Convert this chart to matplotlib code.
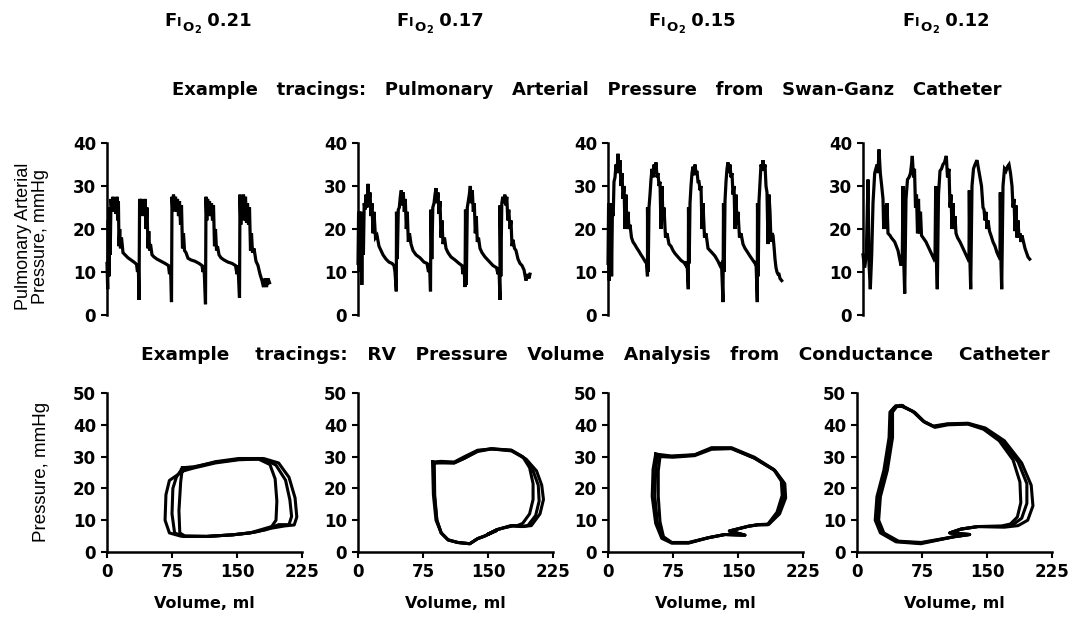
import matplotlib
matplotlib.use("Agg")
import matplotlib.pyplot as plt

plt.rcParams["font.family"] = ["DejaVu Sans"]

FIO2 = ["0.21", "0.17", "0.15", "0.12"]

# --- Pulmonary arterial pressure tracings (time in arbitrary units, mmHg) ---
pap_t_021 = [0, 0.7, 1.3, 2, 2.6, 3.2, 4, 5, 6, 7, 8, 9, 10, 10.7, 11.4, 12, 12.7, 13.5, 14.5, 16, 18, 21, 24, 27, 29.5, 30.5, 31.3, 32,
             32.6, 33.3, 34, 35, 36, 37, 38, 39, 40, 41, 41.8, 42.6, 43.5, 45, 47, 50, 54, 58, 61.5, 62.5, 63.5, 64.5,
             65, 65.8, 66.5, 67.5, 68.5, 69.5, 70.5, 71.5, 72.5, 73.5, 74.5, 75.5, 76.5, 77.5, 79, 81, 84, 88, 92, 95, 96, 97, 98.5,
             99, 99.8, 100.6, 101.5, 102.5, 103.5, 104.5, 105.5, 106.5, 107.5, 108.5, 109.5, 110.5, 112, 114, 117, 121, 125, 128.5, 130, 131, 132.5,
             133, 133.8, 134.6, 135.5, 136.5, 137.5, 138.5, 139.5, 140.5, 141.5, 142.5, 143.5, 144.5, 145.5, 147, 149, 151, 153, 155, 156.5, 158, 159.5, 161, 162.5]
pap_p_021 = [12, 6, 22, 9, 25, 14, 27, 24, 27.5, 24.5, 27, 23.5, 27.5, 22, 26.5, 16, 20, 15.5, 18, 14.5, 14, 13.3, 12.8, 12.3, 11.8, 10, 12, 3.5,
             27, 23, 27, 24.5, 26.5, 23, 27, 20, 25, 15.5, 19.5, 15, 16.5, 14, 13.5, 13, 12.5, 12, 11.5, 9.5, 11.5, 3,
             27.5, 24, 28, 25, 27.5, 24, 27, 23, 26.5, 21, 25.5, 15.5, 19, 15, 14.5, 13.2, 12.8, 12.5, 12, 11.5, 10, 11.5, 2.5,
             27.5, 22, 27, 24, 26.5, 23, 26, 22, 25.5, 16, 20, 15, 16, 14, 13.3, 12.8, 12.3, 12, 11.5, 9.5, 11.5, 4,
             28, 21, 27.5, 23, 28, 22, 27.5, 21.5, 26, 21, 25, 15, 19, 14.5, 15.5, 12.5, 11.5, 9.5, 8, 6.5, 8.5, 6.5, 8.5, 7.5]

pap_t_017 = [0, 0.6, 1.2, 1.8, 2.4, 3, 3.8, 4.6, 5.4, 6.2, 7, 8, 9, 10, 11, 12, 13, 14, 15, 16, 17.5, 19, 21, 23, 25, 28, 31, 34, 36, 37, 38.3,
             38.5, 39.3, 40.3, 41.3, 42.3, 43.3, 44.3, 45.3, 46.3, 47.3, 48.3, 49.3, 50.3, 51.5, 53, 55, 58, 62, 66, 69, 70.5, 71.5, 72.5,
             73, 73.8, 74.8, 76, 77, 78, 79, 80, 81, 82, 83, 84, 85, 86.5, 88, 90, 93, 97, 101, 104, 105, 106, 107,
             107.5, 108.3, 109.3, 110.3, 111.3, 112.3, 113.3, 114.3, 115.3, 116.3, 117.3, 118.3, 119.3, 120.5, 122, 124, 127, 131, 135, 138.5, 140, 141, 142,
             142, 142.8, 143.8, 144.8, 145.8, 146.8, 147.8, 148.8, 149.8, 150.8, 152, 153, 154, 155, 156.5, 158, 160, 162, 164, 166, 168, 169.5, 171, 172]
pap_p_017 = [12, 24, 10, 24, 13, 24, 7, 22, 14, 26, 24.5, 28, 25, 30.5, 26, 28.5, 23, 26, 19, 24, 18, 18.5, 16, 15, 14, 13, 12.3, 12, 11.5, 10, 5.5,
             24, 13, 24.5, 25, 27.5, 29, 25.5, 28.5, 24, 27, 20, 24, 17, 19, 16.5, 15, 14, 13.3, 12.3, 12, 10, 12, 5.5,
             24.5, 13, 25, 26, 28, 29.5, 26, 28.5, 23.5, 26.5, 18, 22, 16.5, 18, 15.5, 14.5, 13.5, 12.8, 12, 11.5, 9.5, 11.5, 6.5,
             24.5, 7, 25, 26.5, 28, 30, 26, 29, 24, 26, 19, 23, 17, 18, 15.5, 14.5, 13.5, 12.5, 11.5, 11, 9.5, 11, 3.5,
             25.5, 9, 26, 27.5, 26, 28, 25.5, 27.5, 22, 24.5, 20, 22, 16, 17.5, 15.5, 15, 13, 12, 11.5, 10.5, 8, 9.5, 8.5, 9.5]

pap_t_015 = [0, 0.6, 1.2, 1.8, 2.4, 3, 3.6, 4.4, 5.2, 6, 7, 8, 9, 10, 11, 12, 13, 14, 15, 16, 17, 18, 19, 20, 21, 22, 23.5, 25, 27, 29, 31, 33, 35, 37, 38.5, 39.5,
             39.5, 40.2, 41, 42, 43, 44, 45, 46, 47, 48, 49, 50, 51, 52, 53, 54, 55, 56, 57.5, 59, 61, 63, 65, 67, 70, 73, 76, 78, 79, 80.3,
             80.5, 81.2, 82, 83, 84, 85, 86, 87, 88, 89, 90, 91, 92, 93, 94, 95, 96.5, 98, 100, 102, 104, 107, 110, 112, 113.5, 115,
             115.5, 116.2, 117, 118, 119, 120, 121, 122, 123, 124, 125, 126, 127, 128, 129, 130, 131.5, 133, 135, 137, 139, 142, 145, 147, 148, 149.3,
             149.5, 150.2, 151, 152, 153, 154, 155, 156, 157, 158, 159, 160, 161, 162, 163, 164, 165, 166, 167, 168, 169, 170, 171, 172, 173.7]
pap_p_015 = [12, 26, 8, 26, 11, 26, 9, 24, 23, 31, 32, 35, 33, 37.5, 33, 36, 30, 33, 27, 30, 20, 28, 20, 24, 20, 21, 18, 17, 16.3, 15.5, 14.8, 14, 13.3, 12.5, 12, 9,
             25, 10, 25, 28, 31.5, 34, 32, 35, 33, 35.5, 32, 33, 30, 31, 20, 30, 22, 25, 18, 19, 16.5, 16, 15, 14.3, 13.5, 12.7, 12.2, 11.5, 12.5, 6,
             25, 12, 26, 30, 33, 34.5, 32.5, 35, 33, 33.5, 31, 31, 29, 30, 20, 26, 18, 19, 15.5, 15, 14.5, 13.7, 12.5, 11.5, 12, 3,
             26, 10, 26.5, 31, 34, 35.5, 33, 35, 32, 33, 28, 30, 20, 28, 21, 24, 18, 19, 16.5, 15.5, 14.8, 13.7, 12.7, 12, 12.5, 3,
             26, 9, 26.5, 31, 35, 34, 36, 33.5, 35, 30, 28.5, 16.5, 28, 24, 17, 19, 18.5, 16, 13, 11, 10, 9.5, 9.5, 8.5, 8]

pap_t_012 = [0, 1.7, 3.3, 5, 6, 7.3, 8.7, 10, 11.7, 14, 15, 16, 17.3, 18.7, 20, 20.7, 22, 23.3, 24, 25, 27, 28.3, 31.7, 35, 36.7, 38, 39.3,
             40, 40.8, 41.7, 43, 44.5, 46, 47.5, 48.5, 49.3, 50.5, 51.5, 52.5, 53.5, 54.5, 55.5, 56.5, 57.5, 58.5, 60, 63, 66, 69, 71, 72,
             72.7, 73.5, 74.3, 75.5, 77, 78.5, 80, 81.5, 83.3, 84.5, 86, 87, 88, 89, 90, 91, 92, 93, 94.5, 97, 100, 103, 105, 106,
             106.3, 107, 107.7, 109, 110.5, 112, 114, 115.5, 117, 118.5, 120, 121, 122, 123, 124, 125, 126.5, 128, 130, 132, 134, 136, 137,
             137.3, 138, 138.7, 140, 141.5, 143, 144.5, 146, 147.5, 149, 150, 151, 152, 153, 154, 155, 156, 157, 158, 159, 160.5, 162, 163.5, 165, 166.7]
pap_p_012 = [14, 11, 14, 31.5, 12, 6, 14, 26, 33, 35, 33, 38.5, 33, 30, 27, 20, 25.5, 20, 26, 19, 18.5, 18, 17, 15, 13, 11.5, 14,
             30, 12, 5, 27, 31.5, 32, 33, 35, 37, 32, 34, 25, 28, 19, 27, 19, 24, 18.5, 18, 17, 15.5, 14, 13, 13.5,
             30, 12, 6, 28, 33.5, 34, 35, 35.5, 37, 32, 34, 25, 28, 20, 26, 20, 23, 19, 18, 17, 15.5, 14, 13, 13.5,
             29, 12, 6, 30, 34, 35, 36, 34, 32, 30, 25, 24.5, 22, 24, 20, 22, 19.5, 18.5, 17, 16, 14.5, 13.5, 14,
             28.5, 12, 6, 30, 34, 33.5, 34.5, 35, 33, 30, 25, 27, 19.5, 25.5, 18, 22, 18, 19, 17, 18.5, 17, 15.5, 14.5, 13.5, 13]

# --- RV pressure-volume loops (volume ml, pressure mmHg), several beats per condition ---
pv_v_021 = [
    [87, 100, 125, 152, 175, 188, 194, 196, 195, 190, 180, 165, 145, 115, 90, 84, 83, 85, 87],
    [86, 100, 125, 152, 180, 195, 206, 211, 213, 210, 198, 183, 165, 145, 115, 88, 78, 75, 76, 80, 86],
    [88, 100, 125, 152, 182, 198, 210, 217, 219, 216, 205, 190, 170, 145, 115, 85, 72, 67, 68, 72, 80, 88],
]
pv_p_021 = [
    [26.5, 26.8, 28.2, 29.2, 29.2, 27.5, 23, 16, 10, 8, 7.2, 6, 5.4, 4.9, 5, 6, 13, 22, 26.5],
    [26.0, 26.6, 28.4, 29.4, 29.4, 27.3, 22.6, 16.4, 11.2, 8.6, 8.6, 7.0, 6.0, 5.4, 4.9, 4.9, 6, 12, 20, 23.5, 26],
    [25.5, 26.4, 28, 29, 29.3, 28, 23.5, 17, 11, 8.5, 8.2, 7.5, 6.2, 5.4, 4.9, 5, 6, 10, 18, 22.5, 24, 25.5],
]
pv_v_017 = [
    [87, 96, 111, 123, 138, 154, 177, 190, 198, 202, 202, 198, 190, 183, 176, 168, 160, 150, 160, 146, 138, 129, 115, 104, 96, 91, 88, 87],
    [88, 97, 111, 123, 138, 154, 177, 192, 202, 208, 209, 205, 196, 188, 178, 168, 160, 150, 160, 146, 138, 129, 115, 104, 96, 91, 88.5, 88],
    [86, 96, 111, 123, 138, 154, 177, 194, 206, 212, 214, 210, 200, 190, 180, 168, 160, 150, 160, 146, 138, 129, 115, 104, 96, 90, 87, 86],
]
pv_p_017 = [
    [28, 28.2, 28, 29.5, 31.6, 32.4, 32, 30, 26.5, 21.5, 16.5, 12, 9, 8.2, 8.3, 7.6, 7, 5.6, 6.8, 5, 4.2, 2.6, 3, 3.8, 6, 10, 18, 28],
    [28, 28, 28, 29.5, 31.8, 32.5, 32, 29.5, 25.5, 21, 16, 11.5, 8.3, 8, 8.2, 7.6, 7, 5.6, 6.8, 5, 4.2, 2.6, 3, 3.8, 6, 10, 18, 28],
    [28.3, 28.5, 28.3, 30, 32, 32.4, 31.8, 29.2, 25.5, 21, 16.5, 12, 8.3, 8, 8.3, 7.6, 7, 5.6, 6.8, 5, 4.2, 2.6, 3, 3.8, 6, 10, 18, 28.3],
]
pv_v_015 = [
    [57, 73.5, 100, 119.5, 142.5, 169, 192, 202, 203, 196, 185, 173, 162, 140, 158, 135, 116, 93, 73.5, 64, 57, 54, 55, 57],
    [60, 75, 100, 119.5, 142.5, 169, 193, 204, 205, 198, 186, 173, 162, 140, 158, 135, 116, 93, 73.5, 64, 60, 58, 58, 60],
    [55, 73, 100, 119.5, 142.5, 169, 191, 200, 201, 195, 184, 173, 162, 140, 158, 135, 116, 93, 73.5, 62, 55, 51, 52, 55],
]
pv_p_015 = [
    [30.5, 30, 30.5, 32.6, 32.6, 29.5, 25.8, 22, 17.5, 12.3, 8.6, 8.6, 8.1, 6.6, 5.3, 5.5, 4.5, 2.9, 2.9, 4.5, 9.2, 17.5, 25.8, 30.5],
    [30, 29.8, 30.3, 32.3, 32.5, 29.5, 25.5, 21.5, 17, 12, 8.8, 8.6, 8.1, 6.6, 5.3, 5.5, 4.5, 3, 3, 4.8, 9.5, 17.5, 25.5, 30],
    [30.8, 30.2, 30.6, 32.8, 32.8, 29.8, 26, 22.3, 17.8, 12.5, 8.6, 8.5, 8.1, 6.6, 5.3, 5.5, 4.5, 2.8, 2.8, 4.3, 9, 17.5, 26, 30.8],
]
pv_v_012 = [
    [52, 66, 77.5, 89, 104.7, 128, 147, 167, 186, 196, 196, 190, 180, 167, 139.5, 120, 107, 130, 112, 73.6, 46.5, 29, 23, 25, 33, 39, 39, 44.6, 52],
    [50, 64, 76, 88, 104, 128, 148, 170, 190, 201, 203, 197, 186, 170, 139.5, 120, 107, 130, 112, 73.6, 45, 27, 21, 23, 31, 37, 38, 43, 50],
    [53, 67, 78, 90, 105, 128, 146, 164, 180, 188, 189, 185, 177, 167, 139.5, 120, 107, 130, 112, 74, 48, 31, 25, 27, 35, 41, 41, 46, 53],
]
pv_p_012 = [
    [46, 44, 41, 39.4, 40.2, 40.4, 38.8, 35, 28.3, 21.5, 15.3, 10.6, 8.6, 8, 8, 7.2, 6, 5.5, 4.8, 2.8, 3.3, 6, 10, 17.4, 25.7, 36, 44, 46, 46],
    [46, 44.3, 41.2, 39.6, 40.3, 40.5, 39, 35, 28, 21, 14.5, 10, 8.3, 7.8, 8, 7.2, 6, 5.5, 4.8, 2.6, 3.2, 6, 10, 17.4, 25.7, 36, 44, 45.5, 46],
    [45.8, 43.8, 40.8, 39.2, 40, 40.2, 38.6, 35, 29, 22, 15.5, 11, 8.8, 8.2, 8, 7.2, 6, 5.5, 4.8, 3, 3.4, 6, 10, 17.4, 25.7, 36, 44, 45.8, 45.8],
]

PAP = [(pap_t_021, pap_p_021), (pap_t_017, pap_p_017), (pap_t_015, pap_p_015), (pap_t_012, pap_p_012)]
PV = [(pv_v_021, pv_p_021), (pv_v_017, pv_p_017), (pv_v_015, pv_p_015), (pv_v_012, pv_p_012)]

W, H = 1069, 617
TOP_LEFT = [107, 358, 608, 863]
BOT_LEFT = [107, 358, 608, 857]
HEAD_X = [207, 439, 691, 945]
TICK_FS = 12


def px_box(x0, ytop, ybot, w=195):
    return [x0 / W, 1 - ybot / H, w / W, (ybot - ytop) / H]


fig = plt.figure(figsize=(W / 100, H / 100), dpi=100)
renderer = fig.canvas.get_renderer()


def header(xc, ybase, value):
    # F with subscript "I" and sub-subscript "O2", built from pieces
    pieces = [("F", 13, 0), ("I", 9, 0), ("O", 9.5, 5), ("2", 7, 7), (" " + value, 13, 0)]
    texts = [fig.text(0, 0, s, fontsize=fs, fontweight="bold", ha="left", va="baseline")
             for s, fs, _ in pieces]
    widths = [t.get_window_extent(renderer).width for t in texts]
    x = xc - sum(widths) / 2
    for t, w, (_, _, down) in zip(texts, widths, pieces):
        t.set_position((x / W, 1 - (ybase + down) / H))
        x += w + 0.5


for i in range(4):
    header(HEAD_X[i], 26, FIO2[i])

fig.text(587 / W, 1 - 90 / H,
         "Example   tracings:   Pulmonary   Arterial   Pressure   from   Swan-Ganz   Catheter",
         ha="center", va="center", fontsize=13, fontweight="bold")
fig.text(595 / W, 1 - 355 / H,
         "Example    tracings:   RV   Pressure   Volume   Analysis   from   Conductance    Catheter",
         ha="center", va="center", fontsize=13.3, fontweight="bold")

fig.text(32 / W, 1 - 236 / H, "Pulmonary Arterial\nPressure, mmHg", rotation=90,
         ha="center", va="center", multialignment="center", fontsize=13,
         family="Liberation Sans", linespacing=1.0)
fig.text(41 / W, 1 - 472 / H, "Pressure, mmHg", rotation=90,
         ha="center", va="center", fontsize=13.5, family="Liberation Sans")

# top row: PAP tracings
for i, (t, p) in enumerate(PAP):
    ax = fig.add_axes(px_box(TOP_LEFT[i], 143, 315))
    ax.plot(t, p, color="black", lw=2.3, solid_joinstyle="miter", clip_on=False)
    ax.set_xlim(0, 195)
    ax.set_ylim(0, 40)
    ax.set_yticks([0, 10, 20, 30, 40])
    ax.set_xticks([])
    for s in ["top", "right", "bottom"]:
        ax.spines[s].set_visible(False)
    ax.spines["left"].set_linewidth(1.8)
    ax.tick_params(axis="y", direction="out", length=4, width=1.5, labelsize=TICK_FS, pad=4)
    for lab in ax.get_yticklabels():
        lab.set_fontweight("bold")

# bottom row: PV loops
for i, (vs, ps) in enumerate(PV):
    ax = fig.add_axes(px_box(BOT_LEFT[i], 393, 552))
    for v, p in zip(vs, ps):
        ax.plot(v, p, color="black", lw=2.2)
    ax.set_xlim(0, 225)
    ax.set_ylim(0, 50)
    ax.set_xticks([0, 75, 150, 225])
    ax.set_yticks([0, 10, 20, 30, 40, 50])
    for s in ["top", "right"]:
        ax.spines[s].set_visible(False)
    for s in ["left", "bottom"]:
        ax.spines[s].set_linewidth(1.8)
    ax.tick_params(direction="out", length=4, width=1.5, labelsize=TICK_FS, pad=4)
    for lab in ax.get_xticklabels() + ax.get_yticklabels():
        lab.set_fontweight("bold")
    ax.set_xlabel("Volume, ml", fontsize=11.5, fontweight="bold", labelpad=11)

fig.savefig("out.png", dpi=100)
